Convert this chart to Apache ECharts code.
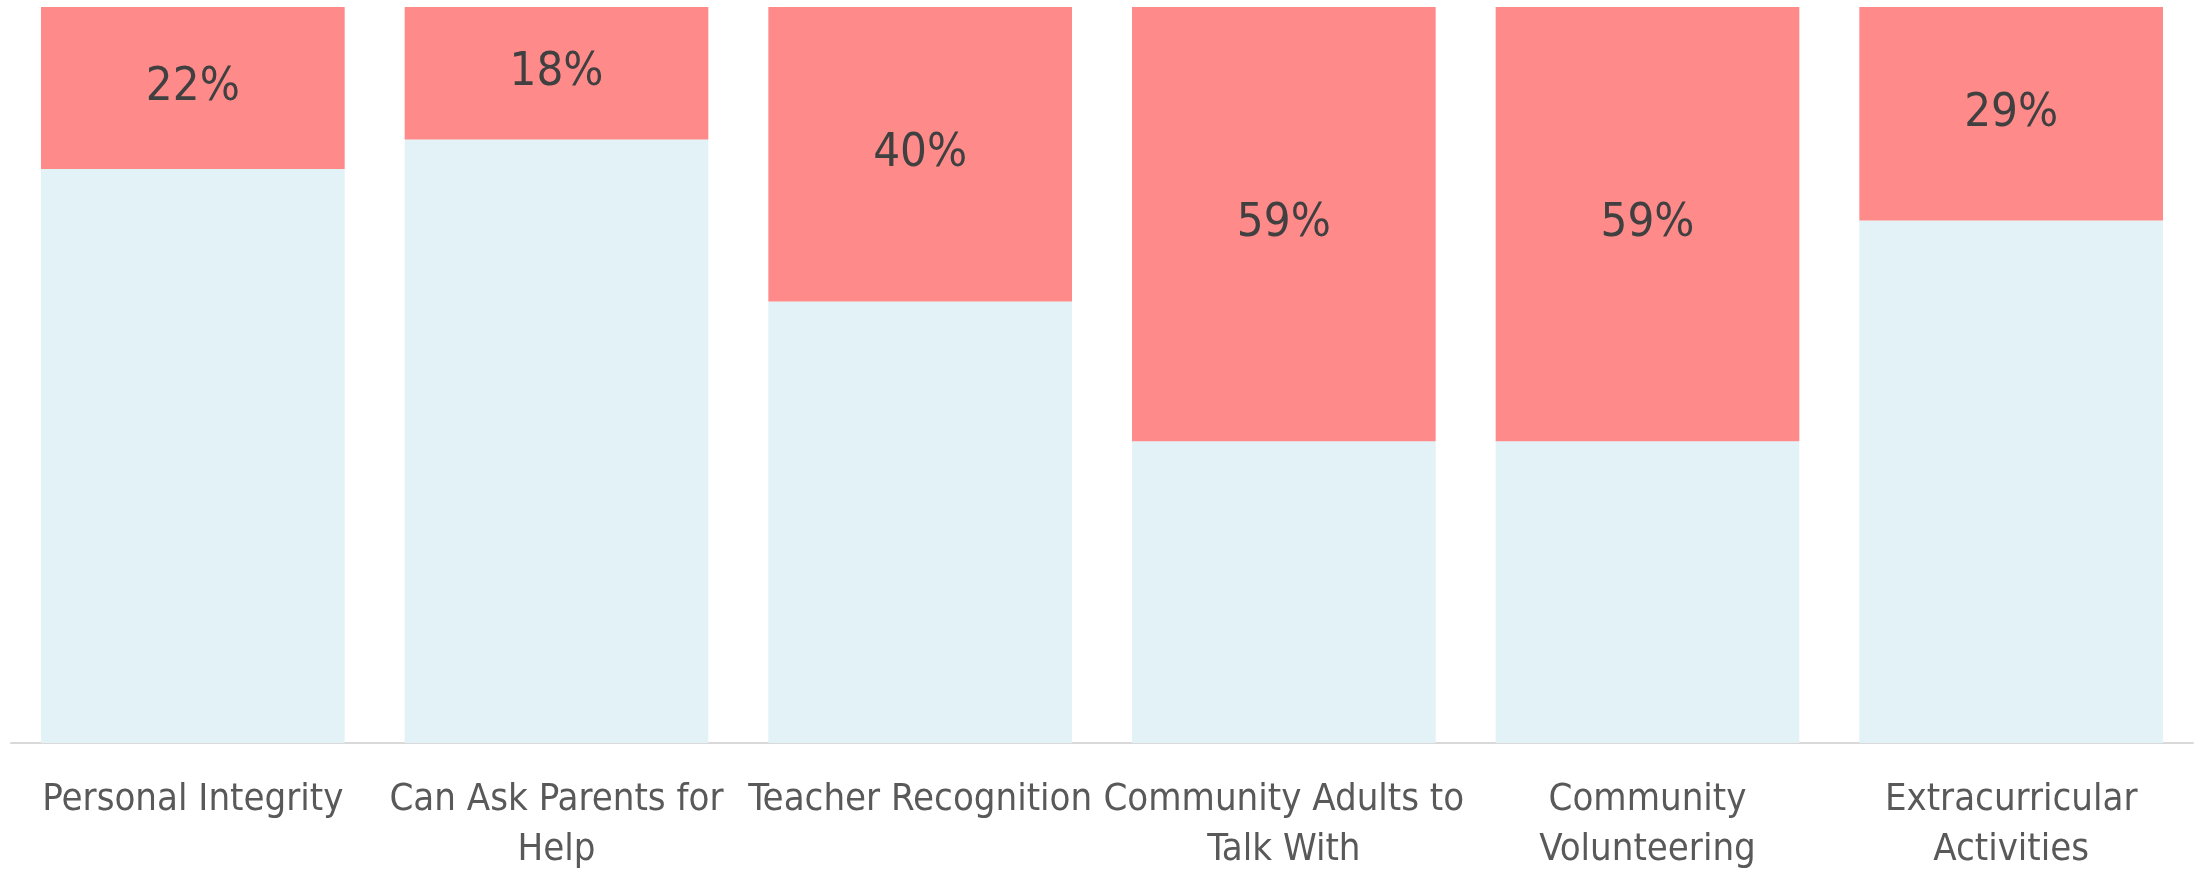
<!DOCTYPE html>
<html>
<head>
<meta charset="utf-8">
<script src="https://cdn.jsdelivr.net/npm/echarts@6/dist/echarts.min.js"></script>
<style>
    html, body { margin: 0; padding: 0; background: #fff; }
    #main { width: 2201px; height: 875px; }
</style>
</head>
<body>
<div id="main"></div>
<script>
    // categories + wrapped tick labels as they appear under the bars
    var categories = ['Personal Integrity', 'Can Ask Parents for Help', 'Teacher Recognition',
        'Community Adults to Talk With', 'Community Volunteering', 'Extracurricular Activities'];
    var tickLabels = ['Personal Integrity', 'Can Ask Parents for\nHelp', 'Teacher Recognition',
        'Community Adults to\nTalk With', 'Community\nVolunteering', 'Extracurricular\nActivities'];

    // share shown in red (labelled), rest of the 100% in light blue
    var redShare = [22, 18, 40, 59, 59, 29];
    var blueShare = [78, 82, 60, 41, 41, 71];

    var font = "'Liberation Sans Narrow', 'DejaVu Sans Condensed', sans-serif";

    var myChart = echarts.init(document.getElementById('main'));

    myChart.setOption({
        animation: false,
        grid: {
            left: 11,
            right: 8,
            top: 7,
            bottom: 131
        },
        xAxis: {
            type: 'category',
            data: categories,
            axisLine: { lineStyle: { color: '#d9d9d9', width: 2 } },
            axisTick: { show: false },
            axisLabel: {
                interval: 0,
                margin: 32,
                fontSize: 38,
                lineHeight: 50,
                color: '#595959',
                fontFamily: font,
                formatter: function (v, i) { return tickLabels[i]; }
            }
        },
        yAxis: {
            type: 'value',
            min: 0,
            max: 100,
            show: false
        },
        series: [
            {
                name: 'rest',
                type: 'bar',
                stack: 'all',
                barCategoryGap: '16.5%',
                itemStyle: { color: '#e2f2f6' },
                data: blueShare
            },
            {
                name: 'share',
                type: 'bar',
                stack: 'all',
                itemStyle: { color: '#ff8a8a' },
                label: {
                    show: true,
                    position: 'inside',
                    fontSize: 47,
                    color: '#404040',
                    fontFamily: font,
                    formatter: '{c}%'
                },
                data: redShare
            }
        ]
    });
</script>
</body>
</html>
